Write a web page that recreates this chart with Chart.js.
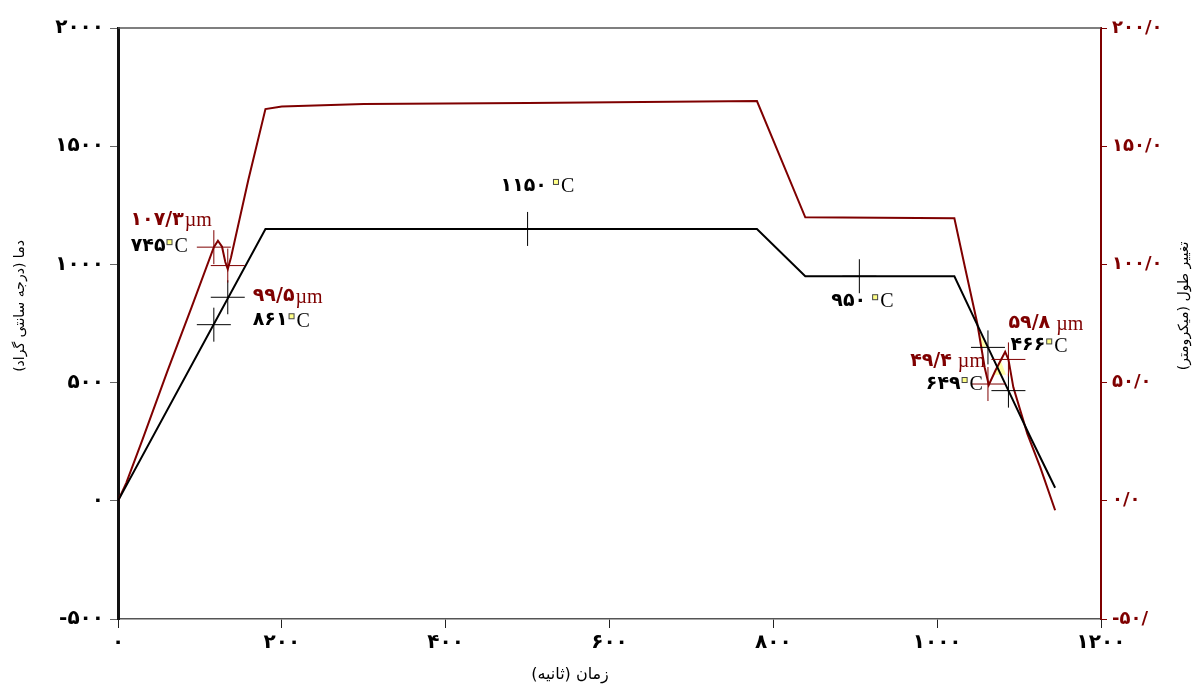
<!DOCTYPE html>
<html>
<head>
<meta charset="utf-8">
<script src="https://cdn.jsdelivr.net/npm/chart.js@4/dist/chart.umd.min.js"></script>
<style>
  body { margin: 0; background: #fff; }
  #wrap { width: 1198px; height: 686px; }
</style>
</head>
<body>
<div id="wrap"><canvas id="chart" width="1198" height="686"></canvas></div>
<script>
// temperature curve (left axis, °C)
const timeTemp = [0, 180, 780, 839, 1021, 1062, 1087, 1113, 1144];
const tempC = [0, 1150, 1150, 950, 950, 649, 466, 275, 55];

// length change curve (right axis, µm)
const timeLen = [0, 10, 30, 60, 90, 117, 122, 127, 131, 134, 138, 159, 180, 200, 300, 500, 780, 839, 1021, 1034, 1049, 1058, 1063, 1071, 1083, 1087, 1093, 1110, 1126, 1144];
const lenUm = [0, 7.5, 26, 54.5, 82, 107.3, 110, 107.5, 101, 98, 103, 135.6, 165.7, 166.8, 167.8, 168.3, 169.1, 119.9, 119.5, 98.7, 75, 56.4, 49, 55, 63, 59.8, 48, 28.4, 14, -4];

// marked points
const tempMarkT = [117, 134, 500, 905, 1062, 1087];
const tempMarkC = [745, 861, 1150, 950, 649, 466];
const lenMarkT = [117, 134, 1062, 1087];
const lenMarkUm = [107.3, 99.5, 49.4, 59.8];

// small highlighted patches (time, °C)
const patchAT = [1051.6, 1054.6, 1060.7, 1051.6];
const patchAC = [712, 648, 648, 712];
const patchBT = [1076.7, 1068.6, 1084.1, 1076.7];
const patchBC = [600, 533, 533, 600];

// ticks
const xTickVals = [0, 200, 400, 600, 800, 1000, 1200];
const xTickText = ['۰', '۲۰۰', '۴۰۰', '۶۰۰', '۸۰۰', '۱۰۰۰', '۱۲۰۰'];
const yTickVals = [-500, 0, 500, 1000, 1500, 2000];
const yTickText = ['-۵۰۰', '۰', '۵۰۰', '۱۰۰۰', '۱۵۰۰', '۲۰۰۰'];
const y2TickVals = [-50, 0, 50, 100, 150, 200];
const y2TickText = ['-۵۰/', '۰/۰', '۵۰/۰', '۱۰۰/۰', '۱۵۰/۰', '۲۰۰/۰'];

const xTitle = 'زمان (ثانیه)';
const yTitle = 'دما (درجه سانتی گراد)';
const y2Title = 'تغییر طول (میکرومتر)';

const RED = '#7f0000';
const FA = '"DejaVu Sans", sans-serif';

function faNum(v) {
    return String(v).replace('.', '/').replace(/[0-9]/g, d => '۰۱۲۳۴۵۶۷۸۹'[d]);
}
function pts(xs, ys) {
    return xs.map((x, i) => ({ x: x, y: ys[i] }));
}
function tickLabel(vals, texts) {
    return v => {
        const i = vals.indexOf(v);
        return i < 0 ? '' : texts[i];
    };
}

// labels next to the marks
const notes = [
    { kind: 'um', i: 0, ax: 'um', ai: 0, align: 'right', dx: -2, dy: -27 },
    { kind: 'C', i: 0, ax: 'um', ai: 0, align: 'right', dx: -26, dy: -1 },
    { kind: 'um', i: 1, ax: 'C', ai: 1, align: 'left', dx: 25, dy: -1 },
    { kind: 'C', i: 1, ax: 'C', ai: 1, align: 'left', dx: 25, dy: 23 },
    { kind: 'C', i: 2, ax: 'C', ai: 2, align: 'left', dx: -27, dy: -43, space: true },
    { kind: 'C', i: 3, ax: 'C', ai: 3, align: 'left', dx: -28, dy: 25, space: true },
    { kind: 'um', i: 3, ax: 'um', ai: 3, align: 'left', dx: 0, dy: -36, space: true },
    { kind: 'C', i: 5, ax: 'um', ai: 3, align: 'left', dx: 2, dy: -14 },
    { kind: 'um', i: 2, ax: 'um', ai: 2, align: 'right', dx: -3, dy: -23, space: true },
    { kind: 'C', i: 4, ax: 'um', ai: 2, align: 'right', dx: -5, dy: 0 }
];

const decor = {
    id: 'decor',
    afterDatasetsDraw(chart) {
        const ctx = chart.ctx;
        const area = chart.chartArea;
        const sx = chart.scales.x, sy = chart.scales.y, sy2 = chart.scales.y2;
        ctx.save();

        // top frame line
        ctx.strokeStyle = '#555';
        ctx.lineWidth = 1.5;
        ctx.beginPath();
        ctx.moveTo(area.left, area.top);
        ctx.lineTo(area.right, area.top);
        ctx.stroke();

        // crosshairs
        const cross = (px, py, color) => {
            ctx.strokeStyle = color;
            ctx.lineWidth = 1;
            ctx.beginPath();
            ctx.moveTo(px - 17, py); ctx.lineTo(px + 17, py);
            ctx.moveTo(px, py - 17); ctx.lineTo(px, py + 17);
            ctx.stroke();
        };
        tempMarkT.forEach((t, i) => cross(sx.getPixelForValue(t), sy.getPixelForValue(tempMarkC[i]), '#000'));
        lenMarkT.forEach((t, i) => cross(sx.getPixelForValue(t), sy2.getPixelForValue(lenMarkUm[i]), RED));

        // labels
        const numFont = 'bold 19px ' + FA;
        const unitFont = '20px "Liberation Serif", serif';
        ctx.textBaseline = 'middle';
        notes.forEach(n => {
            const px = n.ax === 'um' ? sx.getPixelForValue(lenMarkT[n.ai]) : sx.getPixelForValue(tempMarkT[n.ai]);
            const py = n.ax === 'um' ? sy2.getPixelForValue(lenMarkUm[n.ai]) : sy.getPixelForValue(tempMarkC[n.ai]);
            const num = faNum(n.kind === 'um' ? lenMarkUm[n.i] : tempMarkC[n.i]);
            const color = n.kind === 'um' ? RED : '#000';
            ctx.font = numFont;
            const wNum = ctx.measureText(num).width;
            const gap = n.space ? 6 : 1;
            ctx.font = unitFont;
            const wUnit = n.kind === 'um' ? ctx.measureText('µm').width : 8 + ctx.measureText('C').width;
            const total = wNum + gap + wUnit;
            let x = (n.align === 'right' ? px + n.dx - total : px + n.dx);
            const y = py + n.dy;
            ctx.fillStyle = color;
            ctx.textAlign = 'left';
            ctx.font = numFont;
            ctx.fillText(num, x, y);
            x += wNum + gap;
            ctx.font = unitFont;
            if (n.kind === 'um') {
                ctx.fillText('µm', x, y + 1);
            } else {
                ctx.fillStyle = '#ffff88';
                ctx.strokeStyle = '#444';
                ctx.lineWidth = 1;
                ctx.fillRect(x + 0.5, y - 6.5, 5, 5);
                ctx.strokeRect(x + 0.5, y - 6.5, 5, 5);
                ctx.fillStyle = color;
                ctx.fillText('C', x + 8, y + 1);
            }
        });

        // axis titles
        ctx.direction = 'rtl';
        ctx.fillStyle = '#000';
        ctx.textAlign = 'center';
        ctx.textBaseline = 'middle';
        ctx.font = '16px ' + FA;
        ctx.fillText(xTitle, 570, 675);
        ctx.font = '14px ' + FA;
        ctx.save();
        ctx.translate(20, 306);
        ctx.rotate(-Math.PI / 2);
        ctx.fillText(yTitle, 0, 0);
        ctx.restore();
        ctx.save();
        ctx.translate(1184, 306);
        ctx.rotate(-Math.PI / 2);
        ctx.fillText(y2Title, 0, 0);
        ctx.restore();

        ctx.restore();
    }
};

new Chart(document.getElementById('chart'), {
    type: 'scatter',
    data: {
        datasets: [
            {
                data: pts(timeTemp, tempC), yAxisID: 'y', showLine: true,
                borderColor: '#000', borderWidth: 2, pointRadius: 0, order: 1
            },
            {
                data: pts(timeLen, lenUm), yAxisID: 'y2', showLine: true,
                borderColor: RED, borderWidth: 2, pointRadius: 0, order: 2
            },
            {
                data: pts(patchAT, patchAC), yAxisID: 'y', showLine: true, fill: 'shape',
                backgroundColor: '#ffffa8', borderWidth: 0, pointRadius: 0, order: 3
            },
            {
                data: pts(patchBT, patchBC), yAxisID: 'y', showLine: true, fill: 'shape',
                backgroundColor: '#ffffa8', borderWidth: 0, pointRadius: 0, order: 3
            }
        ]
    },
    options: {
        responsive: false,
        animation: false,
        layout: { padding: { top: 28, left: 0, right: 0, bottom: 0 } },
        plugins: { legend: { display: false }, tooltip: { enabled: false } },
        scales: {
            x: {
                type: 'linear', min: 0, max: 1200,
                afterFit: s => { s.height = 67; },
                border: { color: '#555', width: 1.5 },
                grid: { drawOnChartArea: false, tickLength: 9, color: '#222' },
                ticks: {
                    stepSize: 200, padding: 3, color: '#000', maxRotation: 0,
                    font: { family: FA, size: 20, weight: 'bold' },
                    callback: tickLabel(xTickVals, xTickText)
                }
            },
            y: {
                type: 'linear', position: 'left', min: -500, max: 2000,
                afterFit: s => { s.width = 118; },
                border: { color: '#111', width: 3 },
                grid: { drawOnChartArea: false, tickLength: 8, color: '#666' },
                ticks: {
                    stepSize: 500, padding: 6, color: '#000',
                    font: { family: FA, size: 20, weight: 'bold' },
                    callback: tickLabel(yTickVals, yTickText)
                }
            },
            y2: {
                type: 'linear', position: 'right', min: -50, max: 200,
                afterFit: s => { s.width = 97; },
                border: { color: RED, width: 2 },
                grid: { drawOnChartArea: false, tickLength: 6, color: RED },
                ticks: {
                    stepSize: 50, padding: 5, color: RED,
                    font: { family: FA, size: 18, weight: 'bold' },
                    callback: tickLabel(y2TickVals, y2TickText)
                }
            }
        }
    },
    plugins: [decor]
});
</script>
</body>
</html>
